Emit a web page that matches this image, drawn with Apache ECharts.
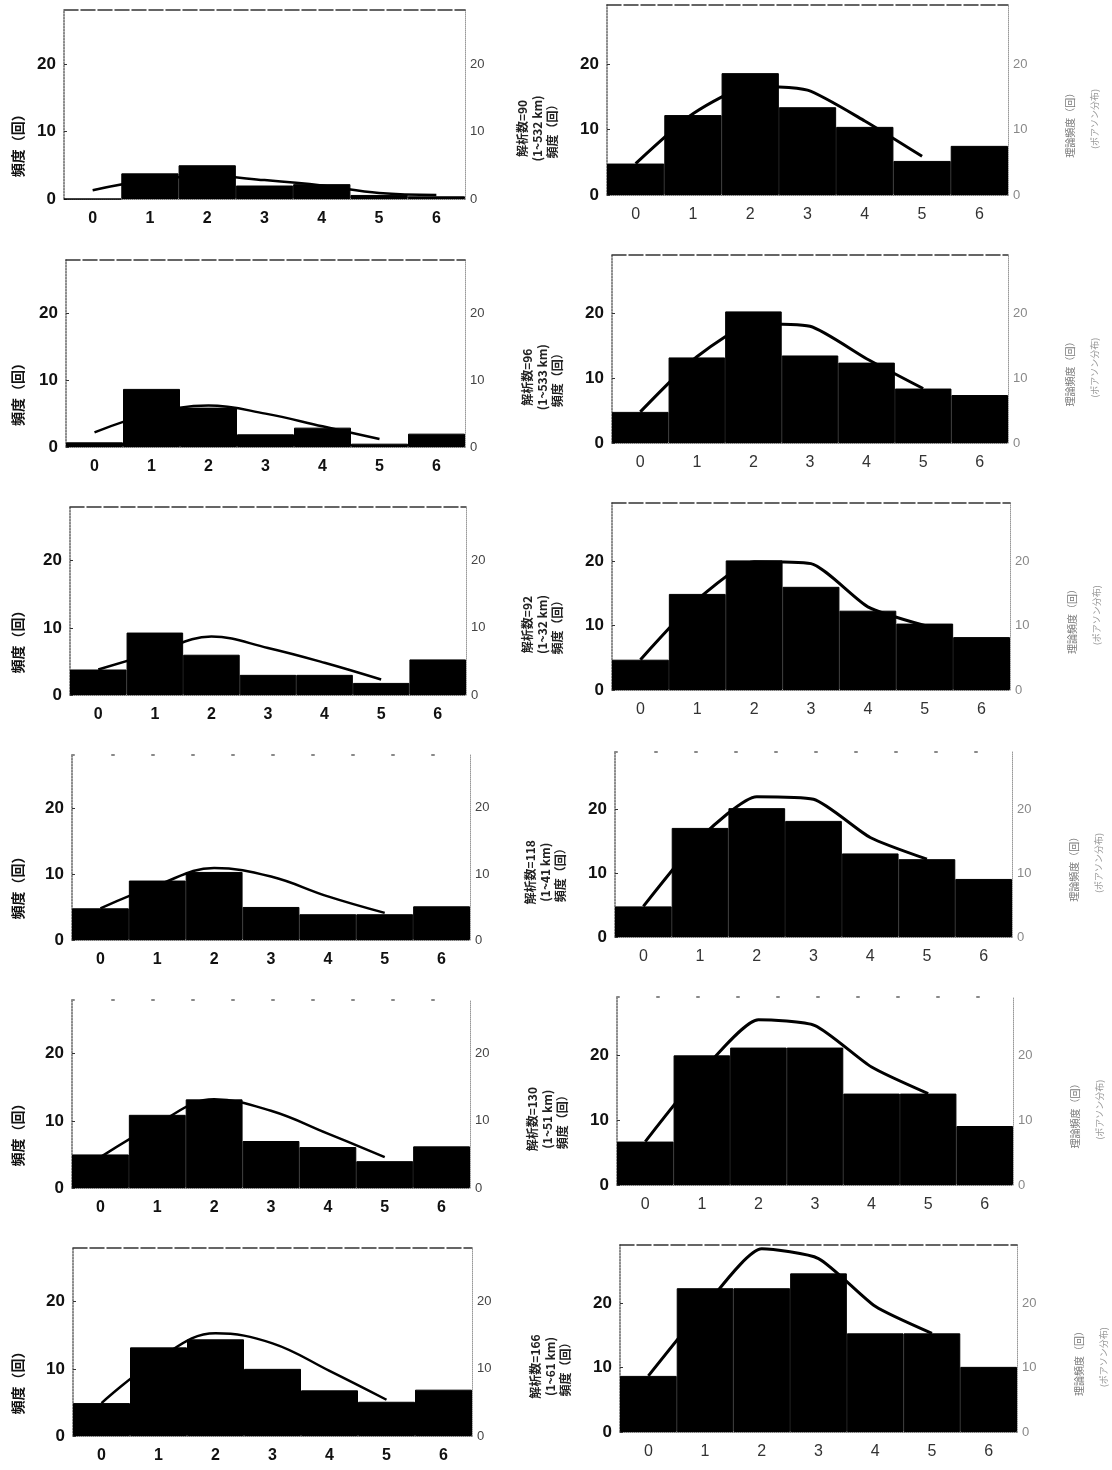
<!DOCTYPE html>
<html>
<head>
<meta charset="utf-8">
<script src="https://cdn.jsdelivr.net/npm/echarts@6/dist/echarts.min.js"></script>
<style>html,body{margin:0;padding:0;background:#fff;}#c{width:1112px;height:1470px;}</style>
</head>
<body>
<div id="c"></div>
<script>
// ---- data ----
const categories = ['0', '1', '2', '3', '4', '5', '6'];

const barsL1 = [0, 3.8, 5.0, 2.0, 2.2, 0.6, 0.4];
const lineL1 = [1.3, 2.8, 3.4, 2.8, 2.0, 0.9, 0.6];
const barsL2 = [0.7, 8.7, 5.9, 1.9, 2.9, 0.5, 2.0];
const lineL2 = [2.2, 5.0, 6.2, 5.0, 3.1, 1.2, null];
const barsL3 = [3.8, 9.3, 6.0, 3.0, 3.0, 1.8, 5.3];
const lineL3 = [3.8, 6.3, 8.7, 7.0, 4.8, 2.3, null];
const barsL4 = [4.8, 9.0, 10.3, 5.0, 3.9, 3.9, 5.1];
const lineL4 = [4.8, 8.3, 10.9, 9.6, 6.6, 4.1, null];
const barsL5 = [5.0, 10.9, 13.2, 7.0, 6.1, 4.0, 6.2];
const lineL5 = [4.6, 9.6, 13.2, 11.5, 8.1, 4.6, null];
const barsL6 = [4.9, 13.2, 14.4, 10.0, 6.8, 5.1, 6.9];
const lineL6 = [4.9, 11.5, 15.3, 13.8, 9.7, 5.4, null];

const barsR1 = [4.8, 12.2, 18.6, 13.4, 10.4, 5.2, 7.5];
const lineR1 = [4.8, 12.4, 16.6, 16.0, 11.3, 5.9, null];
const barsR2 = [4.8, 13.2, 20.3, 13.5, 12.4, 8.4, 7.4];
const lineR2 = [4.8, 13.3, 18.4, 18.0, 13.0, 8.4, null];
const barsR3 = [4.7, 14.9, 20.1, 16.0, 12.3, 10.3, 8.2];
const lineR3 = [4.7, 14.0, 19.9, 19.6, 12.9, 10.0, null];
const barsR4 = [4.8, 17.1, 20.2, 18.2, 13.1, 12.2, 9.1];
const lineR4 = [4.8, 15.5, 22.0, 21.6, 15.6, 12.2, null];
const barsR5 = [6.7, 20.0, 21.2, 21.2, 14.1, 14.1, 9.1];
const lineR5 = [6.7, 17.5, 25.5, 24.6, 18.2, 14.1, null];
const barsR6 = [8.7, 22.3, 22.3, 24.6, 15.3, 15.3, 10.1];
const lineR6 = [8.7, 19.5, 28.4, 26.9, 19.5, 15.3, null];

const leftName = '頻度（回）';
const rightNames = [
  '解析数=90\n(1~532 km)\n頻度（回）',
  '解析数=96\n(1~533 km)\n頻度（回）',
  '解析数=92\n(1~32 km)\n頻度（回）',
  '解析数=118\n(1~41 km)\n頻度（回）',
  '解析数=130\n(1~51 km)\n頻度（回）',
  '解析数=166\n(1~61 km)\n頻度（回）'
];
const farRightNames = ['理論頻度（回）', '(ポアソン分布)'];

// ---- layout ----
const panels = [
  {bars: barsL1, line: lineL1, col: 'L', rect: [64, 10, 401, 189], topSolid: true},
  {bars: barsL2, line: lineL2, col: 'L', rect: [66, 260, 399, 187], topSolid: true},
  {bars: barsL3, line: lineL3, col: 'L', rect: [70, 507, 396, 188], topSolid: true},
  {bars: barsL4, line: lineL4, col: 'L', rect: [72, 755, 398, 185], topSolid: false},
  {bars: barsL5, line: lineL5, col: 'L', rect: [72, 1000, 398, 188], topSolid: false},
  {bars: barsL6, line: lineL6, col: 'L', rect: [73, 1248, 399, 188], topSolid: true},
  {bars: barsR1, line: lineR1, col: 'R', rect: [607, 5, 401, 190], topSolid: true, name: rightNames[0]},
  {bars: barsR2, line: lineR2, col: 'R', rect: [612, 255, 396, 188], topSolid: true, name: rightNames[1]},
  {bars: barsR3, line: lineR3, col: 'R', rect: [612, 503, 398, 187], topSolid: true, name: rightNames[2]},
  {bars: barsR4, line: lineR4, col: 'R', rect: [615, 752, 397, 185], topSolid: false, name: rightNames[3]},
  {bars: barsR5, line: lineR5, col: 'R', rect: [617, 997, 396, 188], topSolid: false, name: rightNames[4]},
  {bars: barsR6, line: lineR6, col: 'R', rect: [620, 1245, 397, 187], topSolid: true, name: rightNames[5]}
];

const FONT = "'Liberation Sans', 'DejaVu Sans', sans-serif";
const grid = [], xAxis = [], yAxis = [], series = [], graphic = [];

panels.forEach((p, i) => {
  const [l, t, w, h] = p.rect;
  const isL = p.col === 'L';
  const ymax = isL ? 28 : 29;
  grid.push({left: l, top: t, width: w, height: h, containLabel: false});
  xAxis.push({
    type: 'category', gridIndex: i, data: categories, position: 'bottom',
    axisTick: {show: false},
    axisLine: {show: true, onZero: false, lineStyle: {color: '#777', type: 'dotted', width: 1}},
    axisLabel: {fontSize: 16, fontWeight: isL ? 'bold' : 'normal', color: isL ? '#111' : '#333', margin: 12, fontFamily: FONT}
  });
  xAxis.push({
    type: 'category', gridIndex: i, data: categories, position: 'top',
    axisTick: {show: false}, axisLabel: {show: false},
    axisLine: {show: true, onZero: false, lineStyle: p.topSolid ? {color: '#333', type: [14, 3], width: 1.5} : {color: '#888', type: [2, 38], width: 2}}
  });
  yAxis.push({
    type: 'value', gridIndex: i, min: 0, max: ymax, interval: 10, position: 'left',
    splitLine: {show: false},
    axisTick: {show: true, inside: true, length: 3, lineStyle: {color: '#333'}},
    axisLine: {show: true, onZero: false, lineStyle: {color: '#666', type: 'dotted', width: 1.5}},
    axisLabel: {showMaxLabel: false, fontSize: 17, fontWeight: 'bold', color: '#111', margin: 8, fontFamily: FONT}
  });
  yAxis.push({
    type: 'value', gridIndex: i, min: 0, max: ymax, interval: 10, position: 'right',
    splitLine: {show: false}, axisTick: {show: false},
    axisLine: {show: true, onZero: false, lineStyle: {color: '#999', type: 'dotted', width: 1}},
    axisLabel: {showMaxLabel: false, fontSize: 13, color: isL ? '#444' : '#888', margin: 5, fontFamily: FONT}
  });
  series.push({
    type: 'bar', xAxisIndex: 2 * i, yAxisIndex: 2 * i, data: p.bars,
    barCategoryGap: '0%', itemStyle: {color: '#000', borderColor: '#000', borderWidth: 1}, silent: true, z: 2
  });
  series.push({
    type: 'line', xAxisIndex: 2 * i, yAxisIndex: 2 * i, data: p.line,
    smooth: isL ? 0.4 : 0.2, symbol: 'none', connectNulls: false,
    lineStyle: {color: '#000', width: isL ? 2.5 : 3}, silent: true, z: 3
  });
  if (isL) {
    graphic.push({
      type: 'text', x: 18, y: t + h * 0.7, rotation: Math.PI / 2,
      style: {text: leftName, font: "bold 14px 'Noto Sans CJK JP'", fill: '#111', align: 'center', verticalAlign: 'middle'}
    });
  } else {
    graphic.push({
      type: 'text', x: l - 70, y: t + h * 0.65, rotation: Math.PI / 2,
      style: {text: p.name, font: "bold 12px 'Noto Sans CJK JP'", lineHeight: 15, fill: '#222', align: 'center', verticalAlign: 'middle'}
    });
    graphic.push({
      type: 'text', x: l + w + 62, y: t + h * 0.62, rotation: Math.PI / 2,
      style: {text: farRightNames[0], font: "10px 'Noto Sans CJK JP'", fill: '#777', align: 'center', verticalAlign: 'middle'}
    });
    graphic.push({
      type: 'text', x: l + w + 87, y: t + h * 0.6, rotation: Math.PI / 2,
      style: {text: farRightNames[1], font: "9px 'Noto Sans CJK JP'", fill: '#999', align: 'center', verticalAlign: 'middle'}
    });
  }
});

const chart = echarts.init(document.getElementById('c'), null, {renderer: 'canvas', width: 1112, height: 1470});
chart.setOption({
  backgroundColor: '#fff',
  animation: false,
  grid, xAxis, yAxis, series, graphic
});
</script>
</body>
</html>
